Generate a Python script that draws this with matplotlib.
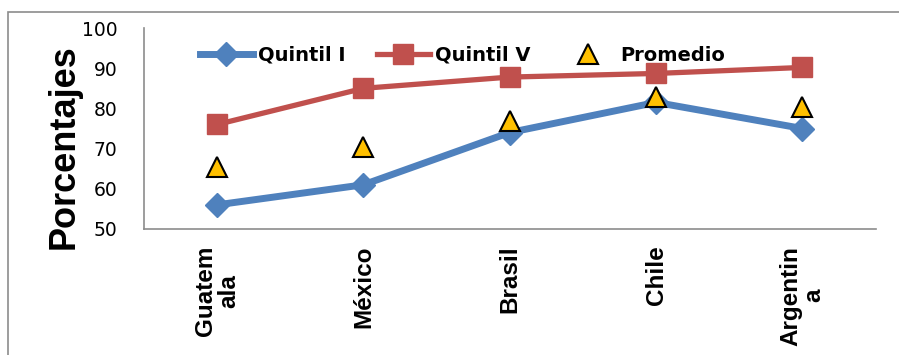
import matplotlib.pyplot as plt
from matplotlib.patches import Rectangle
import numpy as np

# porcentajes por pais
paises = ["Guatem\nala", "México", "Brasil", "Chile", "Argentin\na"]
quintil_1 = [56, 61, 74, 81.5, 75]
quintil_5 = [76, 85, 87.8, 88.7, 90.2]
promedio = [65.4, 70.4, 76.9, 82.8, 80.3]

plt.rcParams['font.family'] = ['DejaVu Sans']

fig = plt.figure(figsize=(8.99, 3.55), dpi=100)
ax = fig.add_axes([0.160, 0.355, 0.814, 0.566])

# marco exterior del grafico
fig.patches.append(Rectangle((8 / 899, -0.1), 1.1, 1 - 12 / 355 + 0.1,
                             transform=fig.transFigure, fill=False,
                             edgecolor='#8c8c8c', linewidth=1.2))

x = np.arange(len(paises))
ax.plot(x, quintil_1, color='#4F81BD', linewidth=5, marker='D',
        markersize=12, label='Quintil I')
ax.plot(x, quintil_5, color='#C0504D', linewidth=3.8, marker='s',
        markersize=14.5, label='Quintil V')
ax.plot(x, promedio, linestyle='none', marker='^', markersize=14,
        markerfacecolor='#FFC000', markeredgecolor='black',
        markeredgewidth=1.5, label='Promedio')

ax.set_xlim(-0.5, len(paises) - 0.5)
ax.set_ylim(50, 100)
ax.set_yticks(range(50, 101, 10))
ax.set_xticks(x)
ax.set_xticklabels(paises, rotation=90, fontsize=17.5, fontweight='bold',
                   family=['Liberation Sans'], linespacing=1.0,
                   ha='center', va='top', multialignment='center')
ax.tick_params(axis='both', length=0)
ax.tick_params(axis='y', labelsize=13.5, pad=19)
ax.tick_params(axis='x', pad=12)
for s in ['top', 'right']:
    ax.spines[s].set_visible(False)
for s in ['left', 'bottom']:
    ax.spines[s].set_color('#8c8c8c')
    ax.spines[s].set_linewidth(1.2)

ax.set_ylabel('Porcentajes', fontsize=26, fontweight='bold',
              family=['Liberation Sans'])
ax.yaxis.set_label_coords(-0.085, 0.41)

leg = ax.legend(loc='upper left', bbox_to_anchor=(0.053, 1.0), ncol=3,
                frameon=False, prop={'weight': 'bold', 'size': 14},
                handlelength=2.7, columnspacing=1.6, handletextpad=0.3)

fig.savefig('out.png', dpi=100)
